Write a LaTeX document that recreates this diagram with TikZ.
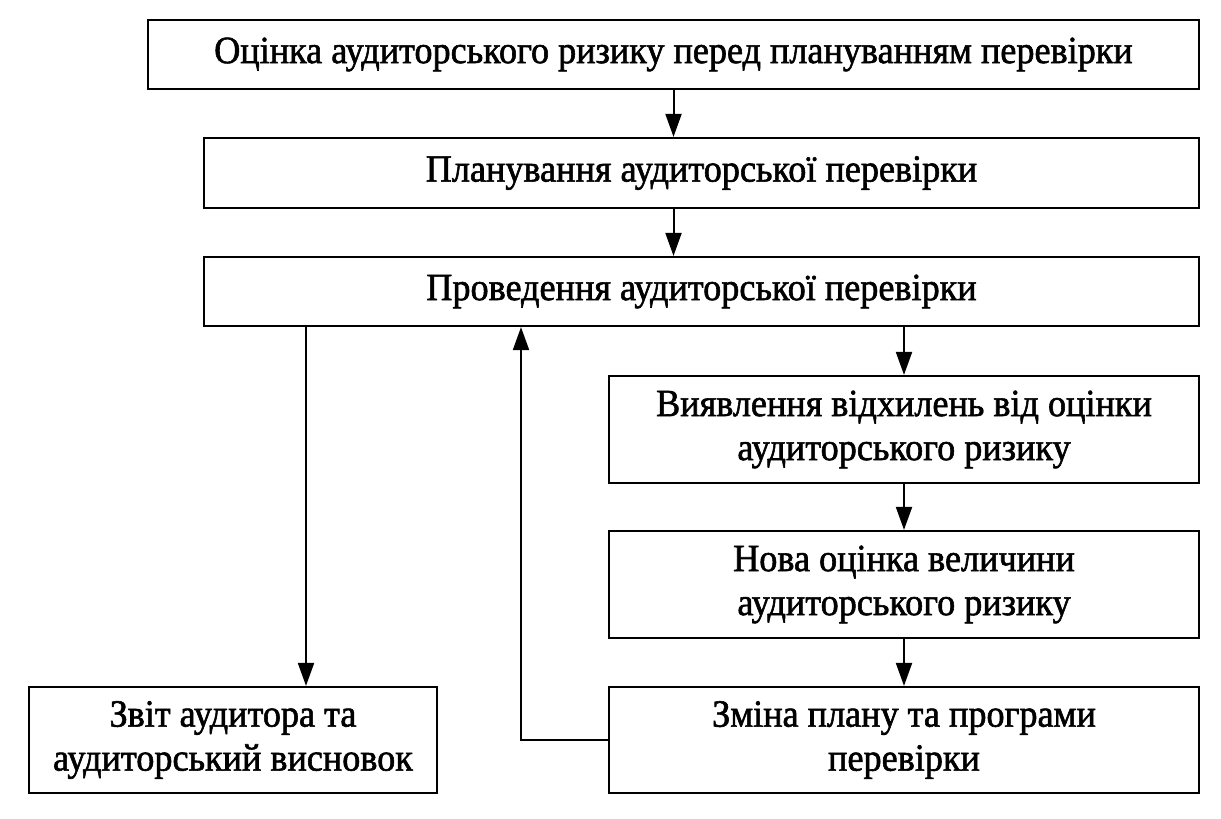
\documentclass[tikz,border=0pt]{standalone}
\usepackage{fontspec}
\setmainfont[FakeStretch=0.94,FakeBold=1.5]{Liberation Serif}
\usetikzlibrary{arrows.meta}
\begin{document}
\begin{tikzpicture}[x=1pt,y=-1pt,
  box/.style={draw, line width=2.2pt, align=center, inner sep=0pt,
    font=\fontsize{38.5}{44}\selectfont},
  conn/.style={line width=2pt, -{Triangle[length=23pt,width=16pt]}}]
\useasboundingbox (0,0) rectangle (1221,819);
\node[box, minimum width=1051, minimum height=69] (b1) at (673.5,54.5)
  {Оцінка аудиторського ризику перед плануванням перевірки};
\node[box, minimum width=995, minimum height=70] (b2) at (701.5,173)
  {Планування аудиторської перевірки};
\node[box, minimum width=995, minimum height=69] (b3) at (701.5,291.5)
  {Проведення аудиторської перевірки};
\node[box, minimum width=590, minimum height=107] (b4) at (904,429.5)
  {Виявлення відхилень від оцінки\\аудиторського ризику};
\node[box, minimum width=590, minimum height=107] (b5) at (904,584.5)
  {Нова оцінка величини\\аудиторського ризику};
\node[box, minimum width=590, minimum height=106] (b6) at (904,740)
  {Зміна плану та програми\\перевірки};
\node[box, minimum width=408, minimum height=106] (b7) at (233,740)
  {Звіт аудитора та\\аудиторський висновок};
\coordinate (dl) at (306,0);
\coordinate (fb) at (521,0);
\draw[conn] (b1.south) -- (b1.south |- b2.north);
\draw[conn] (b1.south |- b2.south) -- (b1.south |- b3.north);
\draw[conn] (dl |- b3.south) -- (dl |- b7.north);
\draw[conn] (b4.north |- b3.south) -- (b4.north);
\draw[conn] (b4.south) -- (b5.north);
\draw[conn] (b5.south) -- (b6.north);
\draw[conn] (b6.west) -| (fb |- b3.south);
\end{tikzpicture}
\end{document}
